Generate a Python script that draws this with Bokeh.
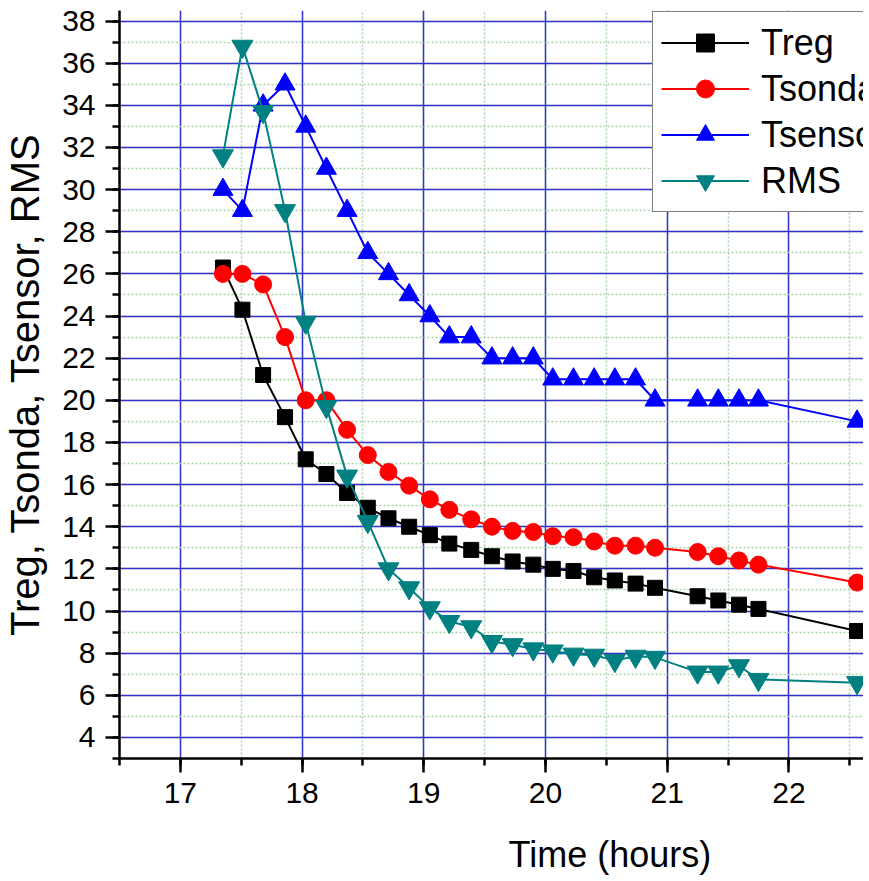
from bokeh.plotting import figure
from bokeh.models import (SingleIntervalTicker, FixedTicker, Range1d, Legend,
                          LegendItem, Title, LinearAxis)
from bokeh.embed import file_html
from bokeh.resources import INLINE

# ---- data ----
time_h = [17.35, 17.51, 17.68, 17.86, 18.03, 18.20, 18.37, 18.54, 18.71, 18.88,
          19.05, 19.21, 19.39, 19.56, 19.73, 19.90, 20.06, 20.23, 20.40, 20.57,
          20.74, 20.90, 21.25, 21.42, 21.59, 21.75, 22.56]
treg = [26.3, 24.3, 21.2, 19.2, 17.2, 16.5, 15.6, 14.9, 14.4, 14.0,
        13.6, 13.2, 12.9, 12.6, 12.35, 12.2, 12.0, 11.9, 11.6, 11.45,
        11.3, 11.1, 10.7, 10.5, 10.3, 10.1, 9.05]
tsonda = [26.0, 26.0, 25.5, 23.0, 20.0, 20.0, 18.6, 17.4, 16.6, 15.95,
          15.3, 14.8, 14.35, 14.0, 13.8, 13.75, 13.55, 13.5, 13.3, 13.1,
          13.1, 13.0, 12.8, 12.6, 12.4, 12.2, 11.35]
tsensor = [30, 29, 34, 35, 33, 31, 29, 27, 26, 25,
           24, 23, 23, 22, 22, 22, 21, 21, 21, 21,
           21, 20, 20, 20, 20, 20, 19]
rms = [31.6, 36.8, 33.7, 29.0, 23.7, 19.7, 16.4, 14.25, 12.0, 11.1,
       10.15, 9.5, 9.25, 8.55, 8.4, 8.2, 8.1, 7.95, 7.9, 7.65,
       7.85, 7.8, 7.1, 7.1, 7.4, 6.75, 6.6]

series_names = ["Treg", "Tsonda", "Tsensor", "RMS"]
x_label = "Time (hours)"
y_label = "Treg, Tsonda, Tsensor, RMS"

FONT = "Liberation Sans"

p = figure(width=863, height=878, output_backend="svg", toolbar_location=None,
           x_range=Range1d(16.5, 22.613), y_range=Range1d(3, 38.5),
           min_border_left=116, min_border_right=0, min_border_top=10,
           min_border_bottom=120)
p.outline_line_color = None
p.background_fill_color = "white"

# axes
p.xaxis.ticker = SingleIntervalTicker(interval=1, num_minor_ticks=2)
p.yaxis.ticker = SingleIntervalTicker(interval=2, num_minor_ticks=2)
for ax in (p.xaxis[0], p.yaxis[0]):
    ax.axis_line_width = 2.5
    ax.axis_line_color = "black"
    ax.major_tick_line_width = 2.5
    ax.minor_tick_line_width = 2.5
    ax.major_tick_line_color = "black"
    ax.minor_tick_line_color = "black"
    ax.major_tick_in = 0
    ax.major_tick_out = 14
    ax.minor_tick_in = 0
    ax.minor_tick_out = 7
    ax.major_label_text_font = FONT
    ax.major_label_text_font_size = "30px"
    ax.major_label_text_color = "black"
    ax.major_label_standoff = 10

p.yaxis.axis_label = y_label
p.yaxis.axis_label_text_font = FONT
p.yaxis.axis_label_text_font_size = "40px"
p.yaxis.axis_label_text_font_style = "normal"
p.yaxis.axis_label_text_color = "black"
p.yaxis.axis_label_standoff = 12

# blank spacer band below the x axis: one white tick, no line, no visible label
spacer = LinearAxis(ticker=FixedTicker(ticks=[17], minor_ticks=[]),
                    axis_line_color=None,
                    major_tick_line_color="white", minor_tick_line_color=None,
                    major_tick_in=0, major_tick_out=24, minor_tick_in=0,
                    minor_tick_out=0, major_label_standoff=0,
                    major_label_text_color=None,
                    major_label_text_font_size="0px")
p.add_layout(spacer, "below")

# x-axis title, placed off-centre like the reference
p.add_layout(Title(text=x_label, align="left", offset=389, text_font=FONT,
                   text_font_size="36px", text_font_style="normal",
                   text_color="black", standoff=4), "below")

# grids
for g in (p.xgrid[0], p.ygrid[0]):
    g.grid_line_color = "#3333cc"
    g.grid_line_width = 1.5
    g.minor_grid_line_color = "#a8d4a8"
    g.minor_grid_line_width = 1.5
    g.minor_grid_line_dash = "2 2"

styles = [
    (treg, "black", "square", 15),
    (tsonda, "#ff0000", "circle", 17),
    (tsensor, "#0000ff", "triangle", 20),
    (rms, "#008080", "inverted_triangle", 21),
]

items = []
for name, (vals, color, marker, size) in zip(series_names, styles):
    lr = p.line(time_h, vals, line_color=color, line_width=2)
    sr = p.scatter(time_h, vals, marker=marker, size=size, fill_color=color,
                   line_color=color)
    items.append(LegendItem(label=name, renderers=[lr, sr]))

legend = Legend(items=items, location=(533, 546), glyph_width=88, glyph_height=45,
                label_height=45, spacing=1, padding=8, margin=0, label_standoff=12,
                label_text_font=FONT, label_text_font_size="36px",
                label_text_color="black", border_line_color="black",
                border_line_width=1.5, background_fill_color="white",
                background_fill_alpha=1.0)
p.add_layout(legend)

open("out.html", "w").write(file_html(p, INLINE))
